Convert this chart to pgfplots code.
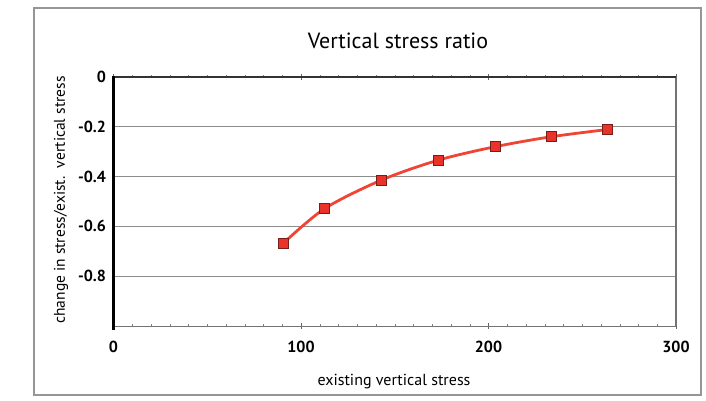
\documentclass[border=0pt]{standalone}
\usepackage{pgfplots}
\pgfplotsset{compat=1.18}
\usepackage{fontspec}
\setmainfont{PT Sans}
\definecolor{linered}{RGB}{240,68,52}
\definecolor{markred}{RGB}{232,50,42}
\definecolor{markedge}{RGB}{120,30,25}
\definecolor{framegray}{RGB}{150,150,150}
\begin{document}
\begin{tikzpicture}[x=1pt,y=1pt]
\path (0,0) rectangle (706,401);
\draw[framegray,line width=1.2pt] (34,6) rectangle (701,393);
\node[font=\fontsize{22}{24}\selectfont] at (398,360) {Vertical stress ratio};
\node[font=\fontsize{15.5}{17}\selectfont,rotate=90] at (61,201) {change in stress/exist.\ \ vertical stress};
\node[font=\fontsize{16}{18}\selectfont] at (394,19) {existing vertical stress};
\begin{axis}[
  at={(113.5pt,75pt)}, anchor=south west,
  scale only axis, width=562.5pt, height=249pt,
  xmin=0, xmax=300, ymin=-1, ymax=0,
  xtick={0,100,200,300},
  minor x tick num=9,
  ytick={0,-0.2,-0.4,-0.6,-0.8},
  yticklabels={0,-0.2,-0.4,-0.6,-0.8},
  xtick align=center,
  major x tick style={line width=0.6pt, black!60},
  minor x tick style={line width=0.5pt, black!50},
  major tick length=6pt, minor tick length=3pt,
  y tick style={draw=none},
  ymajorgrids,
  major y grid style={line width=0.9pt, black!45},
  axis line style={draw=none},
  /pgf/number format/assume math mode=true,
  tick label style={font=\fontsize{16}{18}\selectfont\bfseries},
  xticklabel style={yshift=-9pt},
  yticklabel style={xshift=-4pt},
  clip=false,
]
\draw[black!55,line width=0.8pt] (rel axis cs:0,0) -- (rel axis cs:1,0);
\draw[black!55,line width=1.2pt] (rel axis cs:1,0) -- (rel axis cs:1,1);
\draw[black!80,line width=2pt] (rel axis cs:0,1) -- (rel axis cs:1,1);
\draw[black,line width=2.4pt] (rel axis cs:0,-0.015) -- (rel axis cs:0,1.004);
\addplot[linered, line width=2.8pt, smooth, tension=0.5,
  mark=square*, mark size=5pt,
  mark options={fill=markred, draw=markedge, line width=0.7pt}]
  coordinates {
  (90.5,-0.668) (112.7,-0.528) (142.9,-0.414) (173.2,-0.334)
  (203.5,-0.280) (233.4,-0.240) (263.4,-0.211)
  };
\end{axis}
\end{tikzpicture}
\end{document}
